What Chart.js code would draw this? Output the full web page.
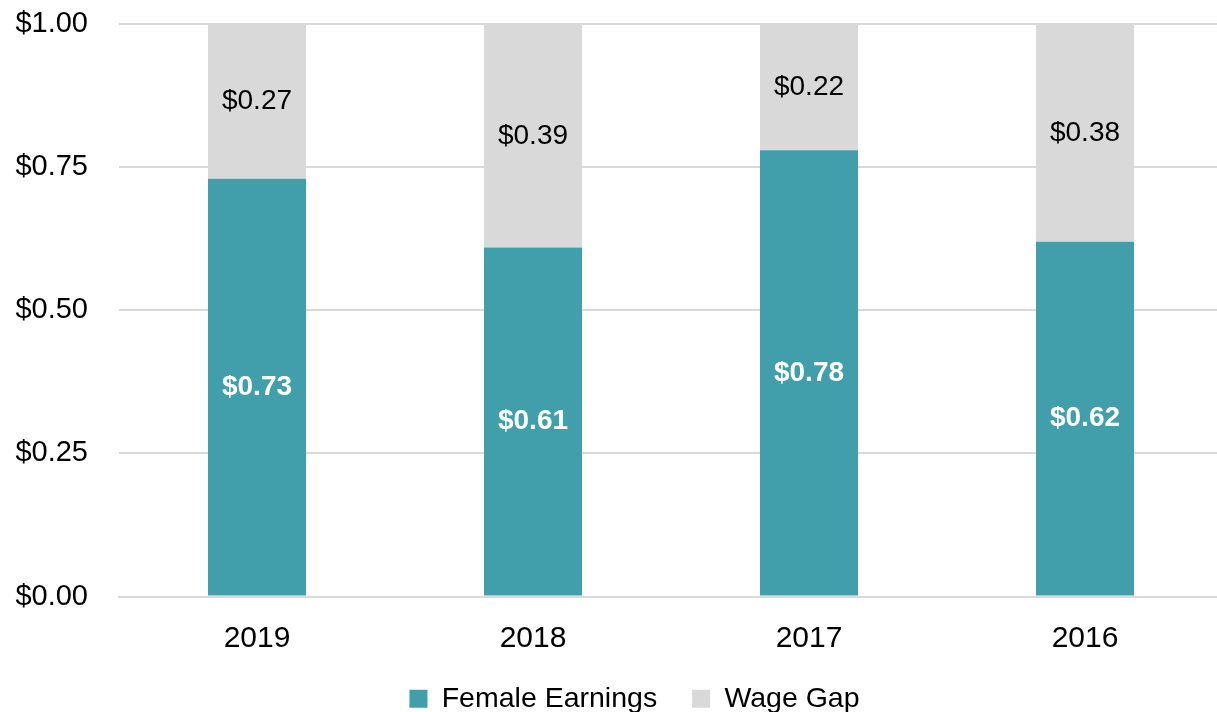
<!DOCTYPE html>
<html>
<head>
<meta charset="utf-8">
<script src="https://cdn.jsdelivr.net/npm/chart.js@4"></script>
<style>
  html, body { margin: 0; padding: 0; background: #fff; overflow: hidden; }
  #wrap { width: 1223px; height: 736px; margin-top: -24px; }
</style>
</head>
<body>
<div id="wrap"><canvas id="wageChart"></canvas></div>
<script>
// Chart data
const years = ["2019", "2018", "2017", "2016"];
const femaleEarnings = [0.73, 0.61, 0.78, 0.62];
const wageGap = [0.27, 0.39, 0.22, 0.38];
const yTicks = [0, 0.25, 0.5, 0.75, 1.0];

const FONT = "'Liberation Sans', Arial, sans-serif";

// Draws value labels in the middle of each bar segment
const barLabels = {
  id: "barLabels",
  afterDatasetsDraw(chart) {
    const ctx = chart.ctx;
    ctx.save();
    ctx.textAlign = "center";
    ctx.textBaseline = "middle";
    chart.data.datasets.forEach((ds, i) => {
      const meta = chart.getDatasetMeta(i);
      meta.data.forEach((bar, j) => {
        const mid = (bar.y + bar.base) / 2;
        ctx.font = (i === 0 ? "bold " : "") + "28px " + FONT;
        ctx.fillStyle = i === 0 ? "#ffffff" : "#000000";
        ctx.fillText("$" + ds.data[j].toFixed(2), bar.x, mid);
      });
    });
    ctx.restore();
  },
};

// Nudge the legend a little to the right, like the original
const legendShift = {
  id: "legendShift",
  afterLayout(chart) {
    if (chart.legend) chart.legend.left += 46;
  },
};

const ctx = document.getElementById("wageChart").getContext("2d");
new Chart(ctx, {
  type: "bar",
  data: {
    labels: years,
    datasets: [
      {
        label: "Female Earnings",
        data: femaleEarnings,
        backgroundColor: "#419EAB",
        barPercentage: 0.355,
        categoryPercentage: 1,
      },
      {
        label: "Wage Gap",
        data: wageGap,
        backgroundColor: "#D9D9D9",
        barPercentage: 0.355,
        categoryPercentage: 1,
      },
    ],
  },
  options: {
    responsive: true,
    maintainAspectRatio: false,
    animation: false,
    layout: { autoPadding: false, padding: { top: 0, left: 0, right: 0, bottom: -11 } },
    plugins: {
      legend: {
        position: "bottom",
        labels: {
          boxWidth: 18,
          boxHeight: 18,
          padding: 35,
          color: "#000",
          font: { family: FONT, size: 28.5 },
        },
      },
      tooltip: { enabled: false },
    },
    scales: {
      x: {
        stacked: true,
        grid: { display: false },
        border: { color: "#D9D9D9", width: 2 },
        afterFit: (axis) => {
          axis.height -= 23; // tighten gap to the legend
        },
        ticks: {
          color: "#000",
          padding: 16,
          font: { family: FONT, size: 30 },
        },
      },
      y: {
        stacked: true,
        min: 0,
        max: 1,
        afterBuildTicks: (axis) => {
          axis.ticks = yTicks.map((v) => ({ value: v }));
        },
        afterFit: (axis) => {
          axis.width = 119;
        },
        grid: { color: "#D9D9D9", lineWidth: 2, drawTicks: false },
        border: { display: false },
        ticks: {
          color: "#000",
          padding: 31,
          font: { family: FONT, size: 29 },
          callback: (value) => "$" + Number(value).toFixed(2),
        },
      },
    },
  },
  plugins: [barLabels, legendShift],
});
</script>
</body>
</html>
